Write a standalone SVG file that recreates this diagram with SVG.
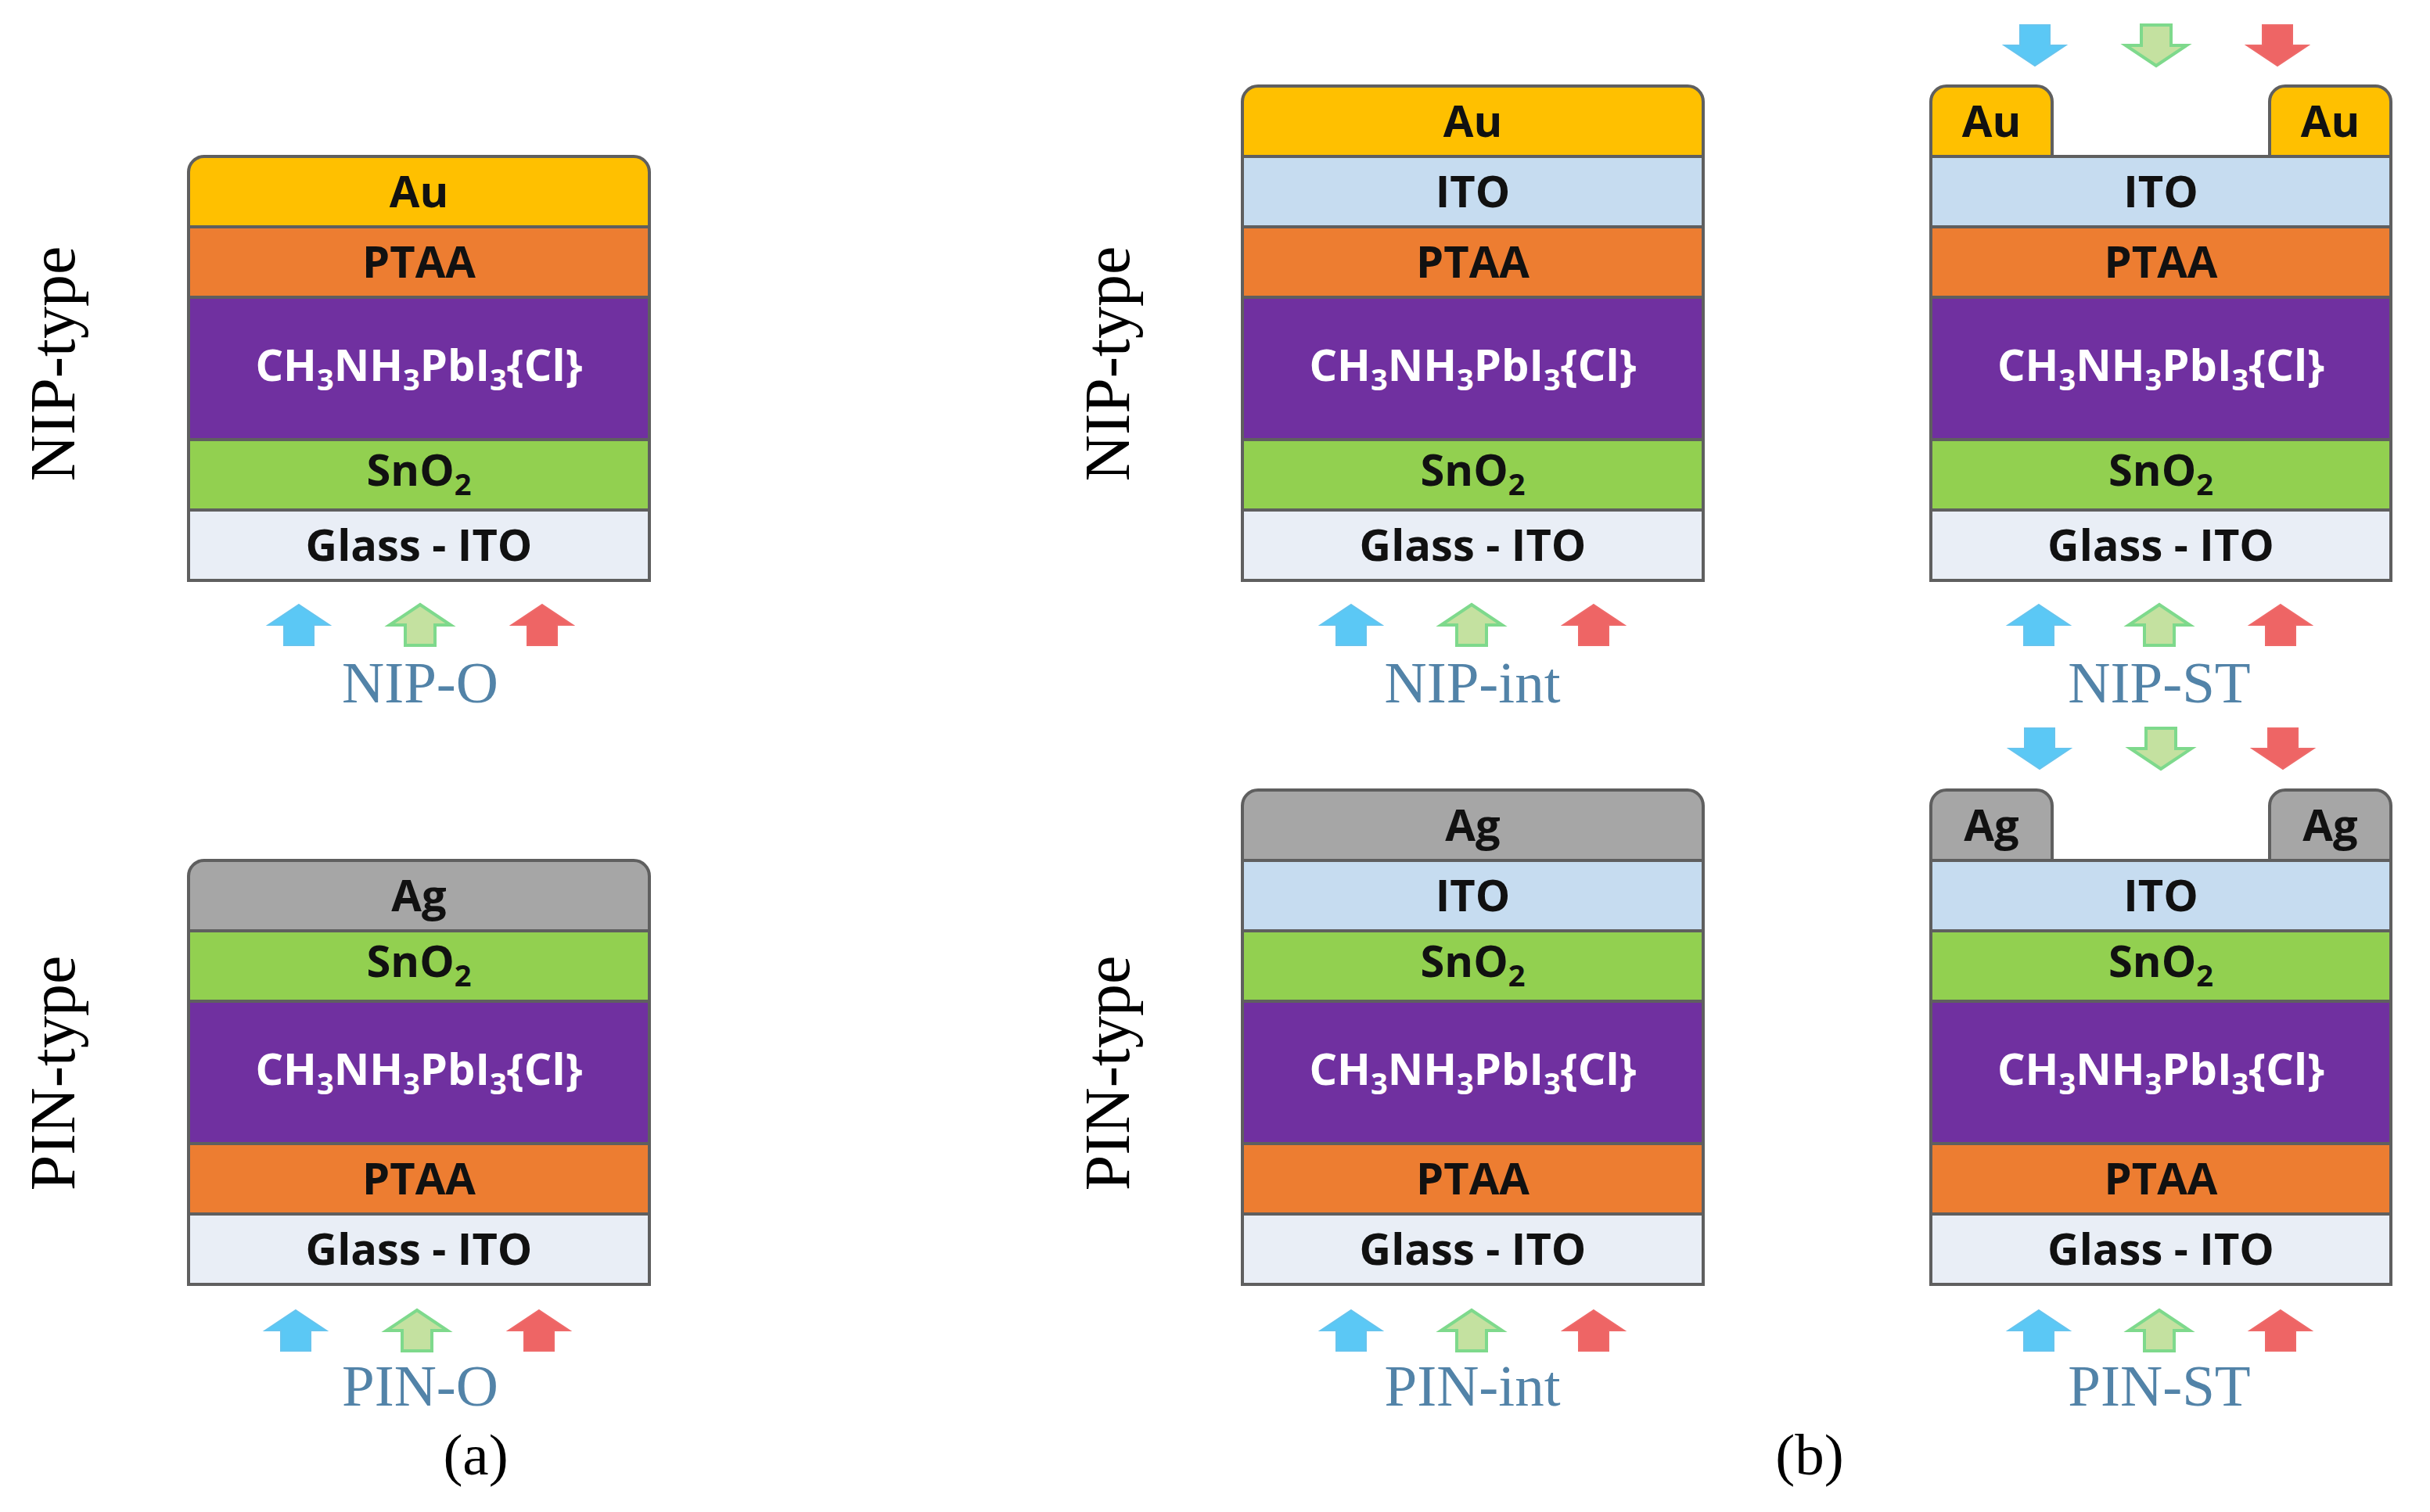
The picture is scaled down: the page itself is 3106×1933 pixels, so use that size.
<svg xmlns="http://www.w3.org/2000/svg" xmlns:xlink="http://www.w3.org/1999/xlink" width="3106" height="1933" viewBox="0 0 3106 1933">
<style>
.ly{stroke:#5f5f5f;stroke-width:4}
.au{fill:#FFC000}.ag{fill:#A6A6A6}.pt{fill:#ED7D31}.pv{fill:#7030A0}.sn{fill:#92D050}.gl{fill:#E9EEF6}.it{fill:#C6DCF0}
.t{font-family:"Open Sans","Liberation Sans",sans-serif;font-weight:bold;font-size:56px;fill:#111;text-anchor:middle}
.tw{fill:#ffffff}
.side{font-family:"Liberation Serif","Times New Roman",serif;font-size:82px;fill:#000;text-anchor:middle}
.lab{font-family:"Liberation Serif","Times New Roman",serif;font-size:75px;fill:#5283A8;text-anchor:middle}
.cap{font-family:"Liberation Serif","Times New Roman",serif;font-size:75px;fill:#000;text-anchor:middle}
.ab{fill:#5BC8F5;stroke:#66C4EE;stroke-width:2}
.ag2{fill:#C4E1A0;stroke:#7ED98C;stroke-width:4}
.ar{fill:#EE6565;stroke:#EE6A6A;stroke-width:2}
</style>
<defs>
<path id="up" d="M0,0 L39,26 L19,26 L19,52 L-19,52 L-19,26 L-39,26 Z"/>
<path id="dn" d="M-19,0 L19,0 L19,26 L39,26 L0,52 L-39,26 L-19,26 Z"/>
</defs>

<!-- side labels -->
<text class="side" transform="translate(95,465) rotate(-90)">NIP-type</text>
<text class="side" transform="translate(95,1372) rotate(-90)">PIN-type</text>
<text class="side" transform="translate(1443,465) rotate(-90)">NIP-type</text>
<text class="side" transform="translate(1443,1372) rotate(-90)">PIN-type</text>

<!-- NIP-O -->
<g id="nip-o">
<path class="ly au" d="M241,290 V220 A20,20 0 0 1 261,200 H810 A20,20 0 0 1 830,220 V290 Z"/>
<rect class="ly pt" x="241" y="290" width="589" height="90"/>
<rect class="ly pv" x="241" y="380" width="589" height="182"/>
<rect class="ly sn" x="241" y="562" width="589" height="90"/>
<rect class="ly gl" x="241" y="652" width="589" height="90"/>
<text class="t" x="535.5" y="265">Au</text>
<text class="t" x="535.5" y="355">PTAA</text>
<text class="t tw" x="535.5" y="487">CH<tspan font-size="38" dy="12">3</tspan><tspan dy="-12">NH</tspan><tspan font-size="38" dy="12">3</tspan><tspan dy="-12">PbI</tspan><tspan font-size="38" dy="12">3</tspan><tspan dy="-12">{Cl}</tspan></text>
<text class="t" x="535.5" y="621">SnO<tspan font-size="38" dy="12">2</tspan></text>
<text class="t" x="535.5" y="717">Glass - ITO</text>
<text class="lab" x="537" y="898">NIP-O</text>
</g>

<!-- PIN-O -->
<g id="pin-o">
<path class="ly ag" d="M241,1190 V1120 A20,20 0 0 1 261,1100 H810 A20,20 0 0 1 830,1120 V1190 Z"/>
<rect class="ly sn" x="241" y="1190" width="589" height="90"/>
<rect class="ly pv" x="241" y="1280" width="589" height="182"/>
<rect class="ly pt" x="241" y="1462" width="589" height="90"/>
<rect class="ly gl" x="241" y="1552" width="589" height="90"/>
<text class="t" x="535.5" y="1165">Ag</text>
<text class="t" x="535.5" y="1249">SnO<tspan font-size="38" dy="12">2</tspan></text>
<text class="t tw" x="535.5" y="1387">CH<tspan font-size="38" dy="12">3</tspan><tspan dy="-12">NH</tspan><tspan font-size="38" dy="12">3</tspan><tspan dy="-12">PbI</tspan><tspan font-size="38" dy="12">3</tspan><tspan dy="-12">{Cl}</tspan></text>
<text class="t" x="535.5" y="1527">PTAA</text>
<text class="t" x="535.5" y="1617">Glass - ITO</text>
<text class="lab" x="537" y="1797">PIN-O</text>
</g>

<!-- NIP-int -->
<g id="nip-int">
<path class="ly au" d="M1588,200 V130 A20,20 0 0 1 1608,110 H2157 A20,20 0 0 1 2177,130 V200 Z"/>
<rect class="ly it" x="1588" y="200" width="589" height="90"/>
<rect class="ly pt" x="1588" y="290" width="589" height="90"/>
<rect class="ly pv" x="1588" y="380" width="589" height="182"/>
<rect class="ly sn" x="1588" y="562" width="589" height="90"/>
<rect class="ly gl" x="1588" y="652" width="589" height="90"/>
<text class="t" x="1882.5" y="175">Au</text>
<text class="t" x="1882.5" y="265">ITO</text>
<text class="t" x="1882.5" y="355">PTAA</text>
<text class="t tw" x="1882.5" y="487">CH<tspan font-size="38" dy="12">3</tspan><tspan dy="-12">NH</tspan><tspan font-size="38" dy="12">3</tspan><tspan dy="-12">PbI</tspan><tspan font-size="38" dy="12">3</tspan><tspan dy="-12">{Cl}</tspan></text>
<text class="t" x="1882.5" y="621">SnO<tspan font-size="38" dy="12">2</tspan></text>
<text class="t" x="1882.5" y="717">Glass - ITO</text>
<text class="lab" x="1882" y="898">NIP-int</text>
</g>

<!-- PIN-int -->
<g id="pin-int">
<path class="ly ag" d="M1588,1100 V1030 A20,20 0 0 1 1608,1010 H2157 A20,20 0 0 1 2177,1030 V1100 Z"/>
<rect class="ly it" x="1588" y="1100" width="589" height="90"/>
<rect class="ly sn" x="1588" y="1190" width="589" height="90"/>
<rect class="ly pv" x="1588" y="1280" width="589" height="182"/>
<rect class="ly pt" x="1588" y="1462" width="589" height="90"/>
<rect class="ly gl" x="1588" y="1552" width="589" height="90"/>
<text class="t" x="1882.5" y="1075">Ag</text>
<text class="t" x="1882.5" y="1165">ITO</text>
<text class="t" x="1882.5" y="1249">SnO<tspan font-size="38" dy="12">2</tspan></text>
<text class="t tw" x="1882.5" y="1387">CH<tspan font-size="38" dy="12">3</tspan><tspan dy="-12">NH</tspan><tspan font-size="38" dy="12">3</tspan><tspan dy="-12">PbI</tspan><tspan font-size="38" dy="12">3</tspan><tspan dy="-12">{Cl}</tspan></text>
<text class="t" x="1882.5" y="1527">PTAA</text>
<text class="t" x="1882.5" y="1617">Glass - ITO</text>
<text class="lab" x="1882" y="1797">PIN-int</text>
</g>

<!-- NIP-ST -->
<g id="nip-st">
<path class="ly au" d="M2468,200 V130 A20,20 0 0 1 2488,110 H2603 A20,20 0 0 1 2623,130 V200 Z"/>
<path class="ly au" d="M2901,200 V130 A20,20 0 0 1 2921,110 H3036 A20,20 0 0 1 3056,130 V200 Z"/>
<rect class="ly it" x="2468" y="200" width="588" height="90"/>
<rect class="ly pt" x="2468" y="290" width="588" height="90"/>
<rect class="ly pv" x="2468" y="380" width="588" height="182"/>
<rect class="ly sn" x="2468" y="562" width="588" height="90"/>
<rect class="ly gl" x="2468" y="652" width="588" height="90"/>
<text class="t" x="2545.5" y="175">Au</text>
<text class="t" x="2978.5" y="175">Au</text>
<text class="t" x="2762" y="265">ITO</text>
<text class="t" x="2762" y="355">PTAA</text>
<text class="t tw" x="2762" y="487">CH<tspan font-size="38" dy="12">3</tspan><tspan dy="-12">NH</tspan><tspan font-size="38" dy="12">3</tspan><tspan dy="-12">PbI</tspan><tspan font-size="38" dy="12">3</tspan><tspan dy="-12">{Cl}</tspan></text>
<text class="t" x="2762" y="621">SnO<tspan font-size="38" dy="12">2</tspan></text>
<text class="t" x="2762" y="717">Glass - ITO</text>
<text class="lab" x="2760" y="898">NIP-ST</text>
</g>

<!-- PIN-ST -->
<g id="pin-st">
<path class="ly ag" d="M2468,1100 V1030 A20,20 0 0 1 2488,1010 H2603 A20,20 0 0 1 2623,1030 V1100 Z"/>
<path class="ly ag" d="M2901,1100 V1030 A20,20 0 0 1 2921,1010 H3036 A20,20 0 0 1 3056,1030 V1100 Z"/>
<rect class="ly it" x="2468" y="1100" width="588" height="90"/>
<rect class="ly sn" x="2468" y="1190" width="588" height="90"/>
<rect class="ly pv" x="2468" y="1280" width="588" height="182"/>
<rect class="ly pt" x="2468" y="1462" width="588" height="90"/>
<rect class="ly gl" x="2468" y="1552" width="588" height="90"/>
<text class="t" x="2545.5" y="1075">Ag</text>
<text class="t" x="2978.5" y="1075">Ag</text>
<text class="t" x="2762" y="1165">ITO</text>
<text class="t" x="2762" y="1249">SnO<tspan font-size="38" dy="12">2</tspan></text>
<text class="t tw" x="2762" y="1387">CH<tspan font-size="38" dy="12">3</tspan><tspan dy="-12">NH</tspan><tspan font-size="38" dy="12">3</tspan><tspan dy="-12">PbI</tspan><tspan font-size="38" dy="12">3</tspan><tspan dy="-12">{Cl}</tspan></text>
<text class="t" x="2762" y="1527">PTAA</text>
<text class="t" x="2762" y="1617">Glass - ITO</text>
<text class="lab" x="2760" y="1797">PIN-ST</text>
</g>

<!-- light arrows -->
<g id="arrows">
<use href="#up" class="ab" x="382" y="773"/>
<use href="#up" class="ag2" x="537" y="773"/>
<use href="#up" class="ar" x="693" y="773"/>
<use href="#up" class="ab" x="378" y="1675"/>
<use href="#up" class="ag2" x="533" y="1675"/>
<use href="#up" class="ar" x="689" y="1675"/>
<use href="#up" class="ab" x="1727" y="773"/>
<use href="#up" class="ag2" x="1881" y="773"/>
<use href="#up" class="ar" x="2037" y="773"/>
<use href="#up" class="ab" x="1727" y="1675"/>
<use href="#up" class="ag2" x="1881" y="1675"/>
<use href="#up" class="ar" x="2037" y="1675"/>
<use href="#up" class="ab" x="2606" y="773"/>
<use href="#up" class="ag2" x="2760" y="773"/>
<use href="#up" class="ar" x="2915" y="773"/>
<use href="#up" class="ab" x="2606" y="1675"/>
<use href="#up" class="ag2" x="2760" y="1675"/>
<use href="#up" class="ar" x="2915" y="1675"/>
<use href="#dn" class="ab" x="2601" y="32"/>
<use href="#dn" class="ag2" x="2756" y="32"/>
<use href="#dn" class="ar" x="2911" y="32"/>
<use href="#dn" class="ab" x="2607" y="931"/>
<use href="#dn" class="ag2" x="2762" y="931"/>
<use href="#dn" class="ar" x="2918" y="931"/>
</g>

<text class="cap" x="608" y="1885">(a)</text>
<text class="cap" x="2313" y="1885">(b)</text>
</svg>
